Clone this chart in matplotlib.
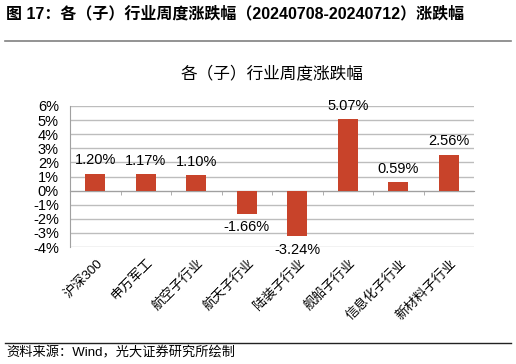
import numpy as np
import matplotlib
matplotlib.use('Agg')
import matplotlib.pyplot as plt
from matplotlib.ticker import FuncFormatter

plt.rcParams['font.family'] = ['Liberation Sans', 'Noto Sans CJK SC']

categories = ['沪深300', '申万军工', '航空子行业', '航天子行业', '陆装子行业',
              '舰船子行业', '信息化子行业', '新材料子行业']
values = [1.20, 1.17, 1.10, -1.66, -3.24, 5.07, 0.59, 2.56]
yticks = [-4, -3, -2, -1, 0, 1, 2, 3, 4, 5, 6]

bar_color = '#C8432A'
grid_color = '#BDBDBD'

fig = plt.figure(figsize=(5.16, 3.64), dpi=100)

# header and footer
fig.text(0.012, 0.962, '图 17：各（子）行业周度涨跌幅（20240708-20240712）涨跌幅',
         fontsize=11.5, fontweight='bold', va='center', ha='left')
fig.add_artist(plt.Line2D([0.01, 0.99], [0.887, 0.887], color='#808080', lw=1.2))
fig.add_artist(plt.Line2D([0.01, 0.99], [0.058, 0.058], color='#222222', lw=1.0))
fig.text(0.012, 0.030, '资料来源：Wind，光大证券研究所绘制', fontsize=9.5, va='center', ha='left')

ax = fig.add_axes([0.1357, 0.3214, 0.7829, 0.3874])
x = np.arange(len(categories))
ax.bar(x, values, width=0.4, color=bar_color, zorder=3)

for xi, v in zip(x, values):
    if v >= 0:
        ax.text(xi, v + 0.45, '%.2f%%' % v, ha='center', va='bottom', fontsize=10.5)
    else:
        ax.text(xi, v - 0.45, '%.2f%%' % v, ha='center', va='top', fontsize=10.5)

ax.set_xlim(-0.5, len(categories) - 0.5)
ax.set_ylim(-4, 6)
ax.set_yticks(yticks)
ax.yaxis.set_major_formatter(FuncFormatter(lambda v, p: '%d%%' % v))
ax.tick_params(axis='y', length=0, labelsize=10.5, pad=8)
ax.grid(axis='y', color=grid_color, lw=1.0, zorder=0)

ax.spines['top'].set_visible(False)
ax.spines['right'].set_visible(False)
ax.spines['left'].set_color('#A0A0A0')
ax.spines['bottom'].set_position(('data', 0))
ax.spines['bottom'].set_color('#A0A0A0')

ax.set_xticks(x)
ax.set_xticklabels([])
ax.set_xticks(np.arange(0.5, len(categories) - 0.5, 1), minor=True)
ax.tick_params(axis='x', which='major', length=0)
ax.tick_params(axis='x', which='minor', length=3, color='#A0A0A0', direction='out')

for xi, lab in zip(x, categories):
    ax.annotate(lab, xy=(xi, -4), xycoords='data', xytext=(1, -7), textcoords='offset points',
                rotation=45, ha='right', va='top', fontsize=9.5, rotation_mode='anchor')

ax.set_title('各（子）行业周度涨跌幅', fontsize=12, pad=20)

fig.savefig('out.png', dpi=100)
